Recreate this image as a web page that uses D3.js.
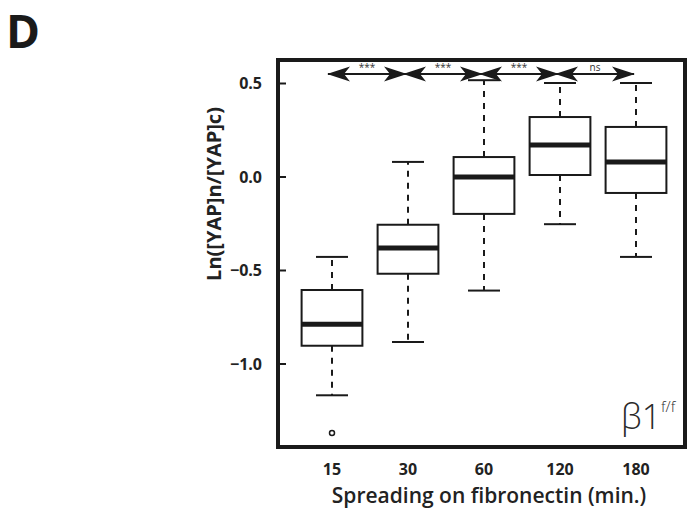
<!DOCTYPE html>
<html>
<head>
<meta charset="utf-8">
<script src="https://cdn.jsdelivr.net/npm/d3@7"></script>
<style>
  body { margin: 0; background: #fff; }
  text { font-family: "Open Sans", "Noto Sans", sans-serif; }
</style>
</head>
<body>
<div id="chart"></div>
<script>
// spreading time on fibronectin (min.)
var categories = ["15", "30", "60", "120", "180"];
var whiskerLow = [-1.17, -0.885, -0.61, -0.255, -0.43];
var q1 = [-0.905, -0.52, -0.20, 0.008, -0.088];
var median = [-0.79, -0.382, -0.003, 0.168, 0.078];
var q3 = [-0.607, -0.258, 0.104, 0.318, 0.265];
var whiskerHigh = [-0.43, 0.078, 0.515, 0.50, 0.50];
var outliers = [[-1.372], [], [], [], []];
var yTicks = [0.5, 0.0, -0.5, -1.0];
// pairwise comparisons drawn above the boxes
var comparisons = [
    {from: "15", to: "30", label: "***"},
    {from: "30", to: "60", label: "***"},
    {from: "60", to: "120", label: "***"},
    {from: "120", to: "180", label: "ns"}
];

var W = 688, H = 508;
var frame = {left: 278, top: 60, right: 685, bottom: 447};

var svg = d3.select("#chart").append("svg")
    .attr("width", W)
    .attr("height", H);

var x = d3.scaleBand()
    .domain(categories)
    .range([294, 674])
    .paddingInner(0.2)
    .paddingOuter(0.1);

var y = d3.scaleLinear()
    .domain([-1, 0.5])
    .range([363.5, 83]);

var cx = function(c) { return x(c) + x.bandwidth() / 2; };

// panel letter
svg.append("text")
    .attr("x", 6)
    .attr("y", 48)
    .attr("font-size", 46)
    .attr("font-weight", 700)
    .attr("fill", "#1a1a1a")
    .text("D");

// frame
svg.append("rect")
    .attr("x", frame.left)
    .attr("y", frame.top)
    .attr("width", frame.right - frame.left)
    .attr("height", frame.bottom - frame.top)
    .attr("fill", "none")
    .attr("stroke", "#1a1a1a")
    .attr("stroke-width", 4);

// y axis (ticks pointing inward, labels outside)
var yAxis = svg.append("g")
    .attr("transform", "translate(" + frame.left + ",0)")
    .call(d3.axisRight(y).tickValues(yTicks).tickSize(8).tickFormat(""));
yAxis.select(".domain").remove();
yAxis.selectAll("line").attr("stroke", "#1a1a1a").attr("stroke-width", 2);

svg.append("g").selectAll("text")
    .data(yTicks)
    .enter().append("text")
    .attr("x", 262)
    .attr("y", function(d) { return y(d) + 6; })
    .attr("text-anchor", "end")
    .attr("font-size", 16)
    .attr("font-weight", 700)
    .attr("fill", "#222")
    .text(function(d) { return d3.format(".1f")(d).replace("-", "\u2212"); });

svg.append("text")
    .attr("transform", "translate(221,194) rotate(-90)")
    .attr("text-anchor", "middle")
    .attr("font-size", 20)
    .attr("font-weight", 700)
    .attr("fill", "#222")
    .text("Ln([YAP]n/[YAP]c)");

// x labels
svg.append("g").selectAll("text")
    .data(categories)
    .enter().append("text")
    .attr("x", function(d) { return cx(d); })
    .attr("y", 475)
    .attr("text-anchor", "middle")
    .attr("font-size", 16)
    .attr("font-weight", 700)
    .attr("fill", "#222")
    .text(function(d) { return d; });

svg.append("text")
    .attr("x", 489)
    .attr("y", 503)
    .attr("text-anchor", "middle")
    .attr("font-size", 21)
    .attr("font-weight", 600)
    .attr("fill", "#222")
    .text("Spreading on fibronectin (min.)");

// boxes
var boxes = svg.append("g")
    .selectAll("g")
    .data(categories)
    .enter().append("g");

var capW = 32;

boxes.append("line")
    .attr("x1", function(d) { return cx(d); })
    .attr("x2", function(d) { return cx(d); })
    .attr("y1", function(d, i) { return y(q3[i]); })
    .attr("y2", function(d, i) { return y(whiskerHigh[i]); })
    .attr("stroke", "#1a1a1a")
    .attr("stroke-width", 2)
    .attr("stroke-dasharray", "6,6");

boxes.append("line")
    .attr("x1", function(d) { return cx(d); })
    .attr("x2", function(d) { return cx(d); })
    .attr("y1", function(d, i) { return y(q1[i]); })
    .attr("y2", function(d, i) { return y(whiskerLow[i]); })
    .attr("stroke", "#1a1a1a")
    .attr("stroke-width", 2)
    .attr("stroke-dasharray", "6,6");

boxes.append("line")
    .attr("x1", function(d) { return cx(d) - capW / 2; })
    .attr("x2", function(d) { return cx(d) + capW / 2; })
    .attr("y1", function(d, i) { return y(whiskerHigh[i]); })
    .attr("y2", function(d, i) { return y(whiskerHigh[i]); })
    .attr("stroke", "#1a1a1a")
    .attr("stroke-width", 2);

boxes.append("line")
    .attr("x1", function(d) { return cx(d) - capW / 2; })
    .attr("x2", function(d) { return cx(d) + capW / 2; })
    .attr("y1", function(d, i) { return y(whiskerLow[i]); })
    .attr("y2", function(d, i) { return y(whiskerLow[i]); })
    .attr("stroke", "#1a1a1a")
    .attr("stroke-width", 2);

boxes.append("rect")
    .attr("x", function(d) { return x(d); })
    .attr("width", x.bandwidth())
    .attr("y", function(d, i) { return y(q3[i]); })
    .attr("height", function(d, i) { return y(q1[i]) - y(q3[i]); })
    .attr("fill", "#fff")
    .attr("stroke", "#1a1a1a")
    .attr("stroke-width", 2);

boxes.append("line")
    .attr("x1", function(d) { return x(d); })
    .attr("x2", function(d) { return x(d) + x.bandwidth(); })
    .attr("y1", function(d, i) { return y(median[i]); })
    .attr("y2", function(d, i) { return y(median[i]); })
    .attr("stroke", "#1a1a1a")
    .attr("stroke-width", 5);

boxes.selectAll("circle")
    .data(function(d, i) { return outliers[i].map(function(v) { return {c: d, v: v}; }); })
    .enter().append("circle")
    .attr("cx", function(d) { return cx(d.c); })
    .attr("cy", function(d) { return y(d.v); })
    .attr("r", 2.5)
    .attr("fill", "none")
    .attr("stroke", "#1a1a1a")
    .attr("stroke-width", 1.5);

// significance arrows
svg.append("defs").append("marker")
    .attr("id", "head")
    .attr("viewBox", "0 -8 24 16")
    .attr("refX", 22)
    .attr("refY", 0)
    .attr("markerWidth", 24)
    .attr("markerHeight", 16)
    .attr("markerUnits", "userSpaceOnUse")
    .attr("orient", "auto-start-reverse")
    .append("path")
    .attr("d", "M0,-7.5L23,0L0,7.5L6,0Z")
    .attr("fill", "#1a1a1a");

var arrowY = 74;
var comp = svg.append("g").selectAll("g")
    .data(comparisons)
    .enter().append("g");

comp.append("line")
    .attr("x1", function(d) { return cx(d.from) - 4; })
    .attr("x2", function(d) { return cx(d.to) - 2; })
    .attr("y1", arrowY)
    .attr("y2", arrowY)
    .attr("stroke", "#1a1a1a")
    .attr("stroke-width", 2)
    .attr("marker-start", "url(#head)")
    .attr("marker-end", "url(#head)");

comp.append("text")
    .attr("x", function(d) { return (cx(d.from) + cx(d.to)) / 2 - 3; })
    .attr("y", arrowY - 3)
    .attr("text-anchor", "middle")
    .attr("font-size", 10)
    .attr("fill", "#333")
    .text(function(d) { return d.label; });

// genotype label
var geno = svg.append("text")
    .attr("x", 621)
    .attr("y", 429)
    .attr("font-size", 34)
    .attr("font-weight", 300)
    .attr("fill", "#2a2a2a");
geno.append("tspan").text("\u03B21");
geno.append("tspan")
    .attr("font-size", 15)
    .attr("dy", -17)
    .text("f/f");
</script>
</body>
</html>
